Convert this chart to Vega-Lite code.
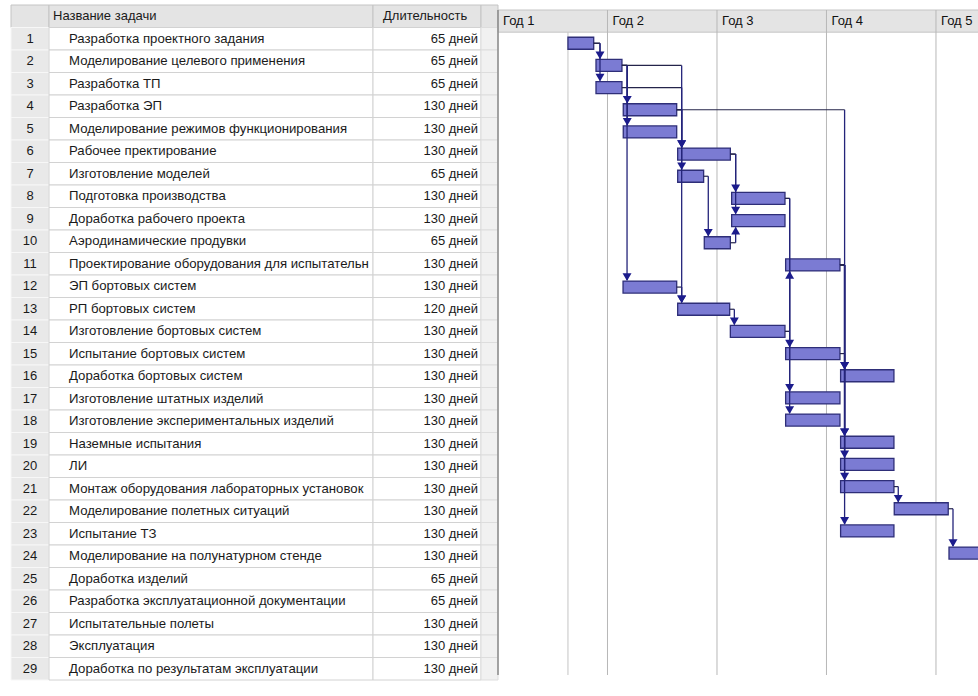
{
  "$schema": "https://vega.github.io/schema/vega-lite/v6.json",
  "background": "white",
  "padding": {"left": 10, "top": 4, "right": 0, "bottom": 0},
  "spacing": 0,
  "bounds": "flush",
  "config": {"view": {"stroke": null}, "font": "Liberation Sans", "text": {"font": "Liberation Sans"}},
  "datasets": {
    "header": [{"id": 0, "name": "Название задачи", "dur": "Длительность"}],
    "tasks": [
      {"id": 1, "name": "Разработка проектного задания", "dur": "65 дней", "start": 0.639, "end": 0.874},
      {"id": 2, "name": "Моделирование целевого применения", "dur": "65 дней", "start": 0.895, "end": 1.132},
      {"id": 3, "name": "Разработка ТП", "dur": "65 дней", "start": 0.895, "end": 1.132},
      {"id": 4, "name": "Разработка ЭП", "dur": "130 дней", "start": 1.144, "end": 1.632},
      {"id": 5, "name": "Моделирование режимов функционирования", "dur": "130 дней", "start": 1.144, "end": 1.632},
      {"id": 6, "name": "Рабочее пректирование", "dur": "130 дней", "start": 1.641, "end": 2.122},
      {"id": 7, "name": "Изготовление моделей", "dur": "65 дней", "start": 1.641, "end": 1.878},
      {"id": 8, "name": "Подготовка производства", "dur": "130 дней", "start": 2.134, "end": 2.621},
      {"id": 9, "name": "Доработка рабочего проекта", "dur": "130 дней", "start": 2.134, "end": 2.621},
      {"id": 10, "name": "Аэродинамические продувки", "dur": "65 дней", "start": 1.884, "end": 2.122},
      {"id": 11, "name": "Проектирование оборудования для испытательн", "dur": "130 дней", "start": 2.627, "end": 3.123},
      {"id": 12, "name": "ЭП бортовых систем", "dur": "130 дней", "start": 1.142, "end": 1.632},
      {"id": 13, "name": "РП бортовых систем", "dur": "120 дней", "start": 1.641, "end": 2.116},
      {"id": 14, "name": "Изготовление бортовых систем", "dur": "130 дней", "start": 2.122, "end": 2.621},
      {"id": 15, "name": "Испытание бортовых систем", "dur": "130 дней", "start": 2.627, "end": 3.123},
      {"id": 16, "name": "Доработка бортовых систем", "dur": "130 дней", "start": 3.129, "end": 3.616},
      {"id": 17, "name": "Изготовление штатных изделий", "dur": "130 дней", "start": 2.627, "end": 3.123},
      {"id": 18, "name": "Изготовление экспериментальных изделий", "dur": "130 дней", "start": 2.627, "end": 3.123},
      {"id": 19, "name": "Наземные испытания", "dur": "130 дней", "start": 3.129, "end": 3.616},
      {"id": 20, "name": "ЛИ", "dur": "130 дней", "start": 3.129, "end": 3.616},
      {"id": 21, "name": "Монтаж оборудования лабораторных установок", "dur": "130 дней", "start": 3.129, "end": 3.616},
      {"id": 22, "name": "Моделирование полетных ситуаций", "dur": "130 дней", "start": 3.619, "end": 4.112},
      {"id": 23, "name": "Испытание ТЗ", "dur": "130 дней", "start": 3.129, "end": 3.616},
      {"id": 24, "name": "Моделирование на полунатурном стенде", "dur": "130 дней", "start": 4.119, "end": 4.61},
      {"id": 25, "name": "Доработка  изделий", "dur": "65 дней"},
      {"id": 26, "name": "Разработка эксплуатационной документации", "dur": "65 дней"},
      {"id": 27, "name": "Испытательные полеты", "dur": "130 дней"},
      {"id": 28, "name": "Эксплуатация", "dur": "130 дней"},
      {"id": 29, "name": "Доработка по результатам эксплуатации", "dur": "130 дней"}
    ],
    "links": [
      {"from": 1, "to": 2}, {"from": 1, "to": 3}, {"from": 2, "to": 4}, {"from": 2, "to": 5},
      {"from": 2, "to": 12}, {"from": 2, "to": 6}, {"from": 3, "to": 6}, {"from": 4, "to": 7},
      {"from": 4, "to": 13}, {"from": 4, "to": 19}, {"from": 6, "to": 8}, {"from": 6, "to": 9},
      {"from": 7, "to": 10}, {"from": 10, "to": 9}, {"from": 12, "to": 13}, {"from": 13, "to": 14},
      {"from": 14, "to": 15}, {"from": 14, "to": 11}, {"from": 8, "to": 17}, {"from": 8, "to": 18},
      {"from": 11, "to": 16}, {"from": 15, "to": 16}, {"from": 11, "to": 19}, {"from": 11, "to": 20},
      {"from": 11, "to": 21}, {"from": 11, "to": 23}, {"from": 21, "to": 22}, {"from": 22, "to": 24}
    ],
    "years": [
      {"label": "Год 1", "yr": 0}, {"label": "Год 2", "yr": 1}, {"label": "Год 3", "yr": 2},
      {"label": "Год 4", "yr": 3}, {"label": "Год 5", "yr": 4}
    ],
    "grid": [{"g": 1}, {"g": 2}, {"g": 3}, {"g": 4}],
    "marker": [{"g": 0.639}]
  },
  "hconcat": [
    {
      "width": 38, "height": 675,
      "layer": [
        {
          "data": {"name": "header"},
          "mark": {"type": "rect", "fill": "#e4e4e4", "stroke": "#c4c4c4", "strokeWidth": 1},
          "encoding": {"y": {"field": "id", "type": "ordinal", "scale": {"domain": [0,1,2,3,4,5,6,7,8,9,10,11,12,13,14,15,16,17,18,19,20,21,22,23,24,25,26,27,28,29], "paddingInner": 0, "paddingOuter": 0}, "axis": null}}
        },
        {
          "data": {"name": "tasks"},
          "mark": {"type": "rect", "fill": "#e9e9e9", "stroke": "#f7f7f7", "strokeWidth": 1},
          "encoding": {"y": {"field": "id", "type": "ordinal", "scale": {"domain": [0,1,2,3,4,5,6,7,8,9,10,11,12,13,14,15,16,17,18,19,20,21,22,23,24,25,26,27,28,29], "paddingInner": 0, "paddingOuter": 0}, "axis": null}}
        },
        {
          "data": {"name": "tasks"},
          "mark": {"type": "text", "fontSize": 13, "color": "#1a1a1a", "align": "center", "baseline": "middle"},
          "encoding": {
            "y": {"field": "id", "type": "ordinal", "scale": {"domain": [0,1,2,3,4,5,6,7,8,9,10,11,12,13,14,15,16,17,18,19,20,21,22,23,24,25,26,27,28,29], "paddingInner": 0, "paddingOuter": 0}, "axis": null},
            "x": {"datum": 0.5, "type": "quantitative", "scale": {"domain": [0, 1]}, "axis": null},
            "text": {"field": "id"}
          }
        }
      ]
    },
    {
      "width": 324, "height": 675,
      "layer": [
        {
          "data": {"name": "header"},
          "mark": {"type": "rect", "fill": "#e4e4e4", "stroke": "#c4c4c4", "strokeWidth": 1},
          "encoding": {"y": {"field": "id", "type": "ordinal", "scale": {"domain": [0,1,2,3,4,5,6,7,8,9,10,11,12,13,14,15,16,17,18,19,20,21,22,23,24,25,26,27,28,29], "paddingInner": 0, "paddingOuter": 0}, "axis": null}}
        },
        {
          "data": {"name": "tasks"},
          "mark": {"type": "rect", "fill": "#ffffff", "stroke": "#d2d2d2", "strokeWidth": 1},
          "encoding": {"y": {"field": "id", "type": "ordinal", "scale": {"domain": [0,1,2,3,4,5,6,7,8,9,10,11,12,13,14,15,16,17,18,19,20,21,22,23,24,25,26,27,28,29], "paddingInner": 0, "paddingOuter": 0}, "axis": null}}
        },
        {
          "data": {"name": "header"},
          "mark": {"type": "text", "fontSize": 13, "color": "#1a1a1a", "align": "left", "baseline": "middle", "dx": 4},
          "encoding": {
            "y": {"field": "id", "type": "ordinal", "scale": {"domain": [0,1,2,3,4,5,6,7,8,9,10,11,12,13,14,15,16,17,18,19,20,21,22,23,24,25,26,27,28,29], "paddingInner": 0, "paddingOuter": 0}, "axis": null},
            "x": {"datum": 0, "type": "quantitative", "scale": {"domain": [0, 1]}, "axis": null},
            "text": {"field": "name"}
          }
        },
        {
          "data": {"name": "tasks"},
          "mark": {"type": "text", "fontSize": 13.2, "color": "#1a1a1a", "align": "left", "baseline": "middle", "dx": 20},
          "encoding": {
            "y": {"field": "id", "type": "ordinal", "scale": {"domain": [0,1,2,3,4,5,6,7,8,9,10,11,12,13,14,15,16,17,18,19,20,21,22,23,24,25,26,27,28,29], "paddingInner": 0, "paddingOuter": 0}, "axis": null},
            "x": {"datum": 0, "type": "quantitative", "scale": {"domain": [0, 1]}, "axis": null},
            "text": {"field": "name"}
          }
        }
      ]
    },
    {
      "width": 108, "height": 675,
      "layer": [
        {
          "data": {"name": "header"},
          "mark": {"type": "rect", "fill": "#e4e4e4", "stroke": "#c4c4c4", "strokeWidth": 1},
          "encoding": {"y": {"field": "id", "type": "ordinal", "scale": {"domain": [0,1,2,3,4,5,6,7,8,9,10,11,12,13,14,15,16,17,18,19,20,21,22,23,24,25,26,27,28,29], "paddingInner": 0, "paddingOuter": 0}, "axis": null}}
        },
        {
          "data": {"name": "tasks"},
          "mark": {"type": "rect", "fill": "#ffffff", "stroke": "#d2d2d2", "strokeWidth": 1},
          "encoding": {"y": {"field": "id", "type": "ordinal", "scale": {"domain": [0,1,2,3,4,5,6,7,8,9,10,11,12,13,14,15,16,17,18,19,20,21,22,23,24,25,26,27,28,29], "paddingInner": 0, "paddingOuter": 0}, "axis": null}}
        },
        {
          "data": {"name": "header"},
          "mark": {"type": "text", "fontSize": 13, "color": "#1a1a1a", "align": "left", "baseline": "middle", "dx": 10},
          "encoding": {
            "y": {"field": "id", "type": "ordinal", "scale": {"domain": [0,1,2,3,4,5,6,7,8,9,10,11,12,13,14,15,16,17,18,19,20,21,22,23,24,25,26,27,28,29], "paddingInner": 0, "paddingOuter": 0}, "axis": null},
            "x": {"datum": 0, "type": "quantitative", "scale": {"domain": [0, 1]}, "axis": null},
            "text": {"field": "dur"}
          }
        },
        {
          "data": {"name": "tasks"},
          "mark": {"type": "text", "fontSize": 13, "color": "#1a1a1a", "align": "right", "baseline": "middle", "dx": -3},
          "encoding": {
            "y": {"field": "id", "type": "ordinal", "scale": {"domain": [0,1,2,3,4,5,6,7,8,9,10,11,12,13,14,15,16,17,18,19,20,21,22,23,24,25,26,27,28,29], "paddingInner": 0, "paddingOuter": 0}, "axis": null},
            "x": {"datum": 1, "type": "quantitative", "scale": {"domain": [0, 1]}, "axis": null},
            "text": {"field": "dur"}
          }
        }
      ]
    },
    {
      "width": 17, "height": 675,
      "layer": [
        {
          "data": {"name": "header"},
          "mark": {"type": "rect", "fill": "#e4e4e4", "stroke": "#c4c4c4", "strokeWidth": 1},
          "encoding": {"y": {"field": "id", "type": "ordinal", "scale": {"domain": [0,1,2,3,4,5,6,7,8,9,10,11,12,13,14,15,16,17,18,19,20,21,22,23,24,25,26,27,28,29], "paddingInner": 0, "paddingOuter": 0}, "axis": null}}
        },
        {
          "data": {"name": "tasks"},
          "mark": {"type": "rect", "fill": "#f1f1f1", "stroke": "#dddddd", "strokeWidth": 1},
          "encoding": {"y": {"field": "id", "type": "ordinal", "scale": {"domain": [0,1,2,3,4,5,6,7,8,9,10,11,12,13,14,15,16,17,18,19,20,21,22,23,24,25,26,27,28,29], "paddingInner": 0, "paddingOuter": 0}, "axis": null}}
        }
      ]
    },
    {
      "width": 481, "height": 675,
      "layer": [
        {
          "data": {"name": "header"},
          "mark": {"type": "rect", "fill": "#e4e4e4", "stroke": "#c4c4c4", "strokeWidth": 1},
          "encoding": {
            "x": {"datum": 0, "type": "quantitative", "scale": {"domain": [0, 4.393], "nice": false, "zero": false}, "axis": null},
            "x2": {"datum": 4.393},
            "y": {"datum": -0.5, "type": "quantitative", "scale": {"domain": [-0.5, 29.5], "reverse": true, "nice": false, "zero": false}, "axis": null},
            "y2": {"datum": 0.5}
          }
        },
        {
          "data": {"name": "grid"},
          "mark": {"type": "rule", "color": "#b8b8b8", "strokeWidth": 1},
          "encoding": {
            "x": {"field": "g", "type": "quantitative", "scale": {"domain": [0, 4.393], "nice": false, "zero": false}, "axis": null},
            "y": {"datum": -0.5, "type": "quantitative", "scale": {"domain": [-0.5, 29.5], "reverse": true, "nice": false, "zero": false}, "axis": null},
            "y2": {"datum": 29.5}
          }
        },
        {
          "data": {"name": "marker"},
          "mark": {"type": "rule", "color": "#c4c4c4", "strokeWidth": 1},
          "encoding": {
            "x": {"field": "g", "type": "quantitative", "scale": {"domain": [0, 4.393], "nice": false, "zero": false}, "axis": null},
            "y": {"datum": 0.5, "type": "quantitative", "scale": {"domain": [-0.5, 29.5], "reverse": true, "nice": false, "zero": false}, "axis": null},
            "y2": {"datum": 29.5}
          }
        },
        {
          "data": {"name": "header"},
          "mark": {"type": "rule", "color": "#8a8a8a", "strokeWidth": 1.5},
          "encoding": {
            "x": {"datum": 0, "type": "quantitative", "scale": {"domain": [0, 4.393], "nice": false, "zero": false}, "axis": null},
            "y": {"datum": -0.5, "type": "quantitative", "scale": {"domain": [-0.5, 29.5], "reverse": true, "nice": false, "zero": false}, "axis": null},
            "y2": {"datum": 29.5}
          }
        },
        {
          "data": {"name": "years"},
          "mark": {"type": "text", "fontSize": 13, "color": "#111111", "align": "left", "baseline": "middle", "dx": 5},
          "encoding": {
            "x": {"field": "yr", "type": "quantitative", "scale": {"domain": [0, 4.393], "nice": false, "zero": false}, "axis": null},
            "y": {"datum": 0, "type": "quantitative", "scale": {"domain": [-0.5, 29.5], "reverse": true, "nice": false, "zero": false}, "axis": null},
            "text": {"field": "label"}
          }
        },
        {
          "data": {"name": "tasks"},
          "mark": {"type": "bar", "height": 12, "fill": "#7b7bd3", "stroke": "#2e2e78", "strokeWidth": 1.3, "clip": true},
          "encoding": {
            "x": {"field": "start", "type": "quantitative", "scale": {"domain": [0, 4.393], "nice": false, "zero": false}, "axis": null},
            "x2": {"field": "end"},
            "y": {"field": "id", "type": "quantitative", "scale": {"domain": [-0.5, 29.5], "reverse": true, "nice": false, "zero": false}, "axis": null}
          }
        },
        {
          "data": {"name": "links"},
          "transform": [
            {"lookup": "from", "from": {"data": {"name": "tasks"}, "key": "id", "fields": ["end"]}, "as": ["pe"]},
            {"lookup": "to", "from": {"data": {"name": "tasks"}, "key": "id", "fields": ["start"]}, "as": ["ss"]}
          ],
          "layer": [
            {
              "mark": {"type": "rule", "color": "#24244a", "strokeWidth": 1.2, "x2Offset": 4},
              "encoding": {
                "x": {"field": "pe", "type": "quantitative", "scale": {"domain": [0, 4.393], "nice": false, "zero": false}, "axis": null},
                "x2": {"field": "ss"},
                "y": {"field": "from", "type": "quantitative", "scale": {"domain": [-0.5, 29.5], "reverse": true, "nice": false, "zero": false}, "axis": null}
              }
            },
            {
              "transform": [{"filter": "datum.to > datum.from"}],
              "layer": [
                {
                  "mark": {"type": "rule", "color": "#24247a", "strokeWidth": 1.3, "xOffset": 4, "y2Offset": -7},
                  "encoding": {
                    "x": {"field": "ss", "type": "quantitative", "scale": {"domain": [0, 4.393], "nice": false, "zero": false}, "axis": null},
                    "y": {"field": "from", "type": "quantitative", "scale": {"domain": [-0.5, 29.5], "reverse": true, "nice": false, "zero": false}, "axis": null},
                    "y2": {"field": "to"}
                  }
                },
                {
                  "mark": {"type": "point", "shape": "triangle-down", "filled": true, "size": 80, "color": "#1c1c8c", "opacity": 1, "xOffset": 4, "yOffset": -10},
                  "encoding": {
                    "x": {"field": "ss", "type": "quantitative", "scale": {"domain": [0, 4.393], "nice": false, "zero": false}, "axis": null},
                    "y": {"field": "to", "type": "quantitative", "scale": {"domain": [-0.5, 29.5], "reverse": true, "nice": false, "zero": false}, "axis": null}
                  }
                }
              ]
            },
            {
              "transform": [{"filter": "datum.to < datum.from"}],
              "layer": [
                {
                  "mark": {"type": "rule", "color": "#24247a", "strokeWidth": 1.3, "xOffset": 4, "y2Offset": 7},
                  "encoding": {
                    "x": {"field": "ss", "type": "quantitative", "scale": {"domain": [0, 4.393], "nice": false, "zero": false}, "axis": null},
                    "y": {"field": "from", "type": "quantitative", "scale": {"domain": [-0.5, 29.5], "reverse": true, "nice": false, "zero": false}, "axis": null},
                    "y2": {"field": "to"}
                  }
                },
                {
                  "mark": {"type": "point", "shape": "triangle-up", "filled": true, "size": 80, "color": "#1c1c8c", "opacity": 1, "xOffset": 4, "yOffset": 10},
                  "encoding": {
                    "x": {"field": "ss", "type": "quantitative", "scale": {"domain": [0, 4.393], "nice": false, "zero": false}, "axis": null},
                    "y": {"field": "to", "type": "quantitative", "scale": {"domain": [-0.5, 29.5], "reverse": true, "nice": false, "zero": false}, "axis": null}
                  }
                }
              ]
            }
          ]
        }
      ]
    }
  ]
}
